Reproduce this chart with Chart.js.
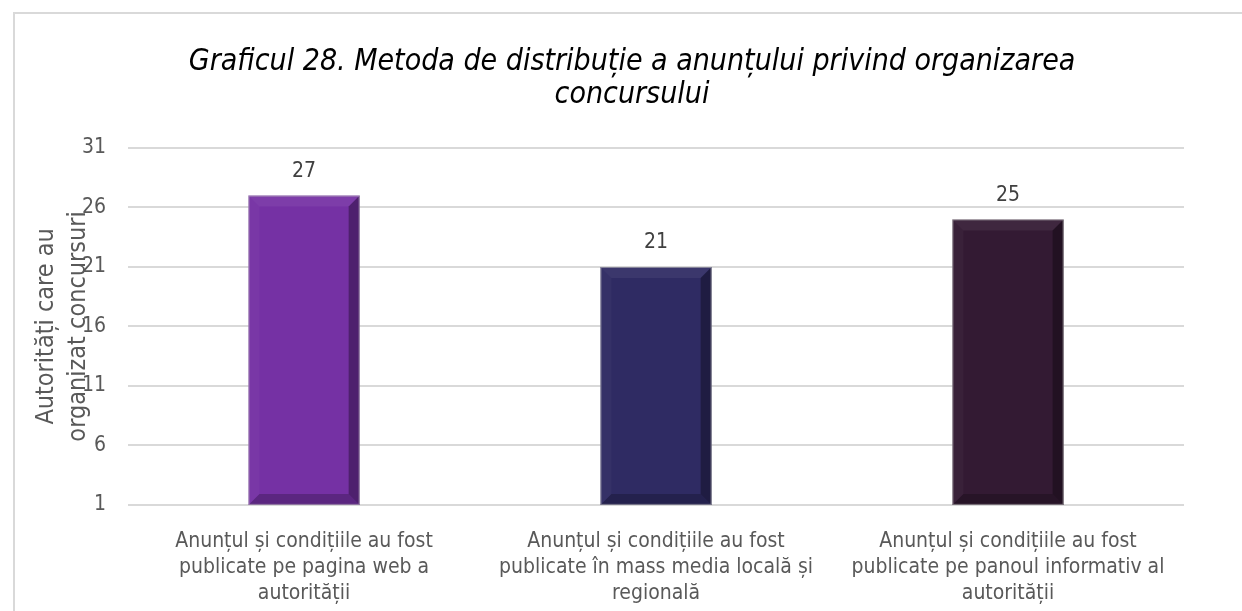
<!DOCTYPE html>
<html>
<head>
<meta charset="utf-8">
<script src="https://cdn.jsdelivr.net/npm/chart.js@4.4.1/dist/chart.umd.min.js"></script>
<style>
  html, body { margin: 0; padding: 0; background: #fff; }
  #wrap { position: relative; width: 1242px; height: 611px; }
  #frame { position: absolute; left: 13px; top: 12px; right: -4px; bottom: -4px;
           border-left: 2px solid #d9d9d9; border-top: 2px solid #d9d9d9; pointer-events: none; }
</style>
</head>
<body>
<div id="wrap">
  <canvas id="chart" width="1242" height="611"></canvas>
  <div id="frame"></div>
</div>
<script>
const FONT = '"Liberation Sans Narrow", "Arial Narrow", "DejaVu Sans Condensed", sans-serif';

const titleLines = ['Graficul 28. Metoda de distribuție a anunțului privind organizarea', 'concursului'];
const axisTitle = ['Autorități care au', 'organizat concursuri'];
const categories = [
    ['Anunțul și condițiile au fost', 'publicate pe pagina web a', 'autorității'],
    ['Anunțul și condițiile au fost', 'publicate în mass media locală și', 'regională'],
    ['Anunțul și condițiile au fost', 'publicate pe panoul informativ al', 'autorității']
];
const values = [27, 21, 25];
const barColors = ['#7531a4', '#2f2b63', '#331a33'];
const yMin = 1;
const yMax = 31;
const yStep = 5;

// the title is centred on the whole frame, not on the padded area
const titleShift = {
    id: 'titleShift',
    afterLayout(chart) {
        if (chart.titleBlock) chart.titleBlock.left += 50;
    }
};

// bevel shading + value labels drawn on top of the bars
const bevelPlugin = {
    id: 'bevel',
    afterDatasetsDraw(chart) {
        const ctx = chart.ctx;
        const meta = chart.getDatasetMeta(0);
        meta.data.forEach(function(bar, i) {
            const left = bar.x - bar.width / 2;
            const right = bar.x + bar.width / 2;
            const top = bar.y;
            const bottom = Math.min(bar.base, chart.chartArea.bottom);
            const b = 11;
            ctx.save();
            ctx.fillStyle = 'rgba(255,255,255,0.06)';
            ctx.beginPath();
            ctx.moveTo(left, top); ctx.lineTo(right, top);
            ctx.lineTo(right - b, top + b); ctx.lineTo(left + b, top + b);
            ctx.closePath(); ctx.fill();
            ctx.fillStyle = 'rgba(0,0,0,0.33)';
            ctx.beginPath();
            ctx.moveTo(right, top); ctx.lineTo(right, bottom);
            ctx.lineTo(right - b, bottom - b); ctx.lineTo(right - b, top + b);
            ctx.closePath(); ctx.fill();
            ctx.fillStyle = 'rgba(0,0,0,0.22)';
            ctx.beginPath();
            ctx.moveTo(left, bottom); ctx.lineTo(right, bottom);
            ctx.lineTo(right - b, bottom - b); ctx.lineTo(left + b, bottom - b);
            ctx.closePath(); ctx.fill();
            ctx.fillStyle = 'rgba(255,255,255,0.03)';
            ctx.beginPath();
            ctx.moveTo(left, top); ctx.lineTo(left + b, top + b);
            ctx.lineTo(left + b, bottom - b); ctx.lineTo(left, bottom);
            ctx.closePath(); ctx.fill();
            ctx.strokeStyle = 'rgba(190,190,190,0.6)';
            ctx.lineWidth = 1;
            ctx.strokeRect(left + 0.5, top + 0.5, bar.width - 1, bottom - top - 1);

            ctx.fillStyle = '#404040';
            ctx.font = '21px ' + FONT;
            ctx.textAlign = 'center';
            ctx.textBaseline = 'middle';
            ctx.fillText(values[i], bar.x, top - 24);
            ctx.restore();
        });
    }
};

new Chart(document.getElementById('chart').getContext('2d'), {
    type: 'bar',
    data: {
        labels: categories,
        datasets: [{
            data: values,
            backgroundColor: barColors,
            borderWidth: 0,
            categoryPercentage: 1,
            barPercentage: 0.316
        }]
    },
    options: {
        responsive: false,
        animation: false,
        layout: {
            padding: { left: 30, right: 58, top: 0, bottom: -12 }
        },
        plugins: {
            legend: { display: false },
            tooltip: { enabled: false },
            title: {
                display: true,
                text: titleLines,
                color: '#000',
                font: { family: FONT, size: 30, style: 'italic', weight: 'normal', lineHeight: 1.1 },
                padding: { top: 46, bottom: 36 }
            }
        },
        scales: {
            x: {
                grid: { display: false },
                border: { display: false },
                ticks: {
                    color: '#595959',
                    font: { family: FONT, size: 21, lineHeight: 1.24 },
                    padding: 16,
                    maxRotation: 0,
                    autoSkip: false
                }
            },
            y: {
                min: yMin,
                max: yMax,
                ticks: {
                    stepSize: yStep,
                    color: '#595959',
                    font: { family: FONT, size: 21 },
                    padding: 22
                },
                grid: { color: '#d9d9d9', lineWidth: 2, drawTicks: false },
                border: { display: false },
                title: {
                    display: true,
                    text: axisTitle,
                    color: '#595959',
                    font: { family: FONT, size: 25, lineHeight: 1.3 },
                    padding: { top: 0, bottom: -35 }
                }
            }
        }
    },
    plugins: [titleShift, bevelPlugin]
});
</script>
</body>
</html>
